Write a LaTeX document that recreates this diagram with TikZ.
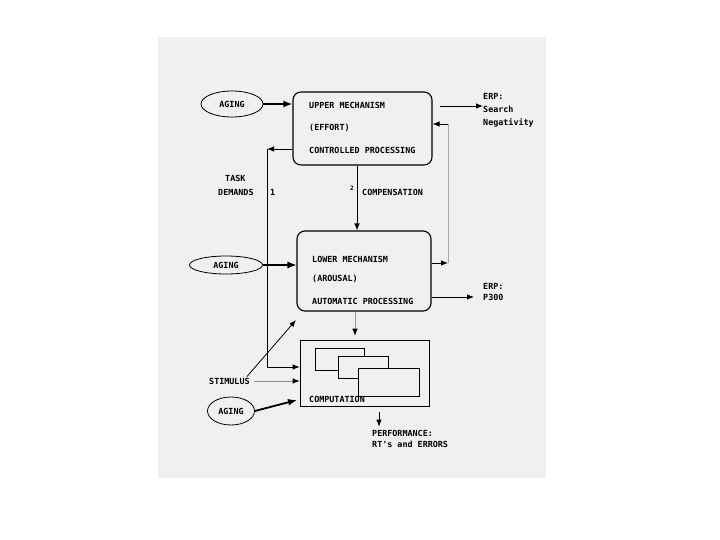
\documentclass[tikz,border=0pt]{standalone}
\usepackage{fontspec}
\newfontfamily\diafont{DejaVu Sans Mono}
\usetikzlibrary{arrows.meta,shapes.geometric,calc}

\tikzset{
  mechbox/.style={draw, line width=1.1pt, rounded corners=8pt, inner sep=0pt},
  compbox/.style={draw, line width=0.7pt, inner sep=0pt},
  cardbox/.style={draw, line width=0.7pt, fill=black!6, inner sep=0pt},
  lbl/.style={font=\diafont\bfseries\fontsize{8.4}{11}\selectfont, inner sep=0pt, anchor=west},
  agingnode/.style={draw, ellipse, line width=0.8pt, inner sep=0pt, font=\diafont\bfseries\fontsize{8.4}{11}\selectfont},
  conn/.style={line width=0.8pt, -{Latex[length=7pt,width=5.5pt,color=black]}},
  heavy/.style={line width=1.8pt, -{Latex[length=9pt,width=7pt]}},
}

\begin{document}
\begin{tikzpicture}[x=1pt,y=-1pt]
\useasboundingbox (0,0) rectangle (720,540);
\fill[black!6] (158,37) rectangle (546,478);

% mechanisms
\node[mechbox, minimum width=139pt, minimum height=73pt] (upper) at (362.5,128.5) {};
\node[lbl] (up1) at (309,105) {UPPER MECHANISM};
\node[lbl] (up2) at (309,128) {(EFFORT)};
\node[lbl] (up3) at (309,150) {CONTROLLED PROCESSING};

\node[mechbox, minimum width=134pt, minimum height=80pt] (lower) at (364,271) {};
\node[lbl] (lo1) at (312,259) {LOWER MECHANISM};
\node[lbl] (lo2) at (312,279) {(AROUSAL)};
\node[lbl] (lo3) at (312,301) {AUTOMATIC PROCESSING};

\node[compbox, minimum width=129pt, minimum height=66pt] (comp) at (364.5,373) {};
\node[cardbox, minimum width=49pt, minimum height=22pt] (card1) at (339.5,359) {};
\node[cardbox, minimum width=50pt, minimum height=22pt] (card2) at (363,367) {};
\node[cardbox, minimum width=61pt, minimum height=28pt] (card3) at (388.5,382) {};
\node[lbl] (comptxt) at (309,399) {COMPUTATION};

% inputs
\node[agingnode, minimum width=62pt, minimum height=26pt] (aging1) at (232,104) {AGING};
\node[agingnode, minimum width=73pt, minimum height=18pt] (aging2) at (226,265) {AGING};
\node[agingnode, minimum width=47pt, minimum height=28pt] (aging3) at (231,411) {AGING};
\node[lbl] (task) at (225,178) {TASK};
\node[lbl] (demands) at (218,192) {DEMANDS};
\node[lbl] (one) at (270,192) {1};
\node[lbl, font=\diafont\bfseries\fontsize{6}{8}\selectfont] (two) at (350,188) {2};
\node[lbl] (compens) at (362,192) {COMPENSATION};
\node[lbl] (stim) at (209,381) {STIMULUS};

% outputs
\node[lbl, align=left, anchor=north west, font=\diafont\bfseries\fontsize{8.4}{13}\selectfont] (erp1) at (483,93) {ERP:\\Search\\Negativity};
\node[lbl, align=left, anchor=north west, font=\diafont\bfseries\fontsize{8.4}{11}\selectfont] (erp2) at (483,283) {ERP:\\P300};
\node[lbl] (perf1) at (372,433) {PERFORMANCE:};
\node[lbl] (perf2) at (372,444) {RT's and ERRORS};

\coordinate (erpA) at (440,106);
\coordinate (fbk) at (448,263);
\coordinate (fbtop) at (448,124);
\coordinate (p3) at (474,297);
\coordinate (cmp) at (357,190);
\coordinate (tdtop) at (267,149);
\coordinate (tdbot) at (267,367);
\coordinate (stimtip) at (296,320);
\coordinate (agtip) at (297,400);
\coordinate (perfx) at (379,420);

\draw[heavy] (aging1) -- (aging1 -| upper.west);
\draw[conn, line width=1.1pt, -{Latex[length=9pt,width=7pt]}] (aging2) -- (aging2 -| lower.west);
\draw[heavy] (aging3.east) -- (agtip);

\draw[conn] (erpA) -- (erpA -| erp1.west);
\draw[conn] (lower.east |- fbk) -- (fbk);
\draw[black!35, line width=0.6pt] (fbk) -- (fbtop);
\draw[conn] (fbtop) -- (fbtop -| upper.east);
\draw[conn] (lower.east |- p3) -- (p3);

\draw[conn] (upper.south -| cmp) -- (lower.north -| cmp);
\draw[conn] (tdtop -| upper.west) -- (tdtop);
\draw[line width=0.8pt] (tdtop) -- (tdbot);
\draw[conn] (tdbot) -- (tdbot -| comp.west);

\draw[conn, black!40, shorten >=4pt] (lower.south -| 355,0) -- (comp.north -| 355,0);
\draw[conn] ($(stim.north east)+(-3,-1)$) -- (stimtip);
\draw[conn, black!45] ($(stim.east)+(4,0)$) -- (stim.east -| comp.west);
\draw[conn, shorten <=6pt, shorten >=3pt] (comp.south -| perfx) -- (perf1.north -| perfx);
\end{tikzpicture}
\end{document}
